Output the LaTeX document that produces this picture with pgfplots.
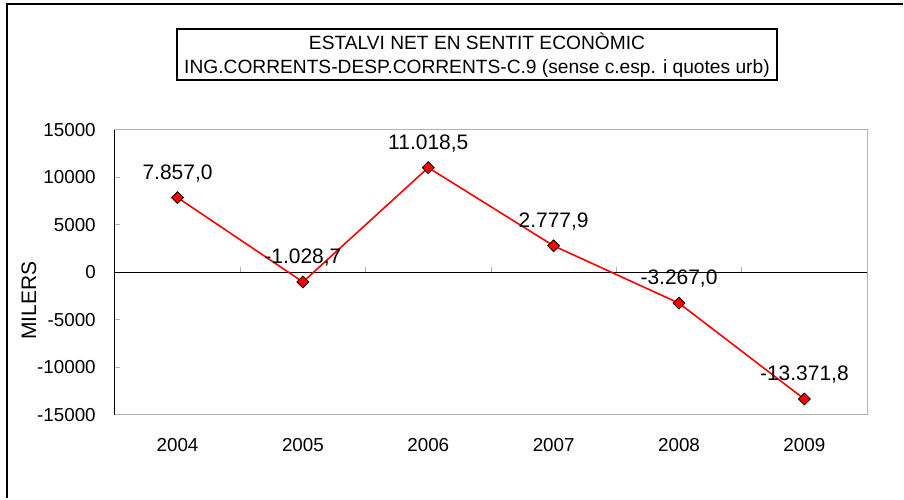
\documentclass[border=0pt]{standalone}
\usepackage{fontspec}
\setmainfont{Liberation Sans}
\usepackage{pgfplots}
\pgfplotsset{compat=1.18}

\pgfplotstableread{
x y lab
0 7857.0 7.857,0
1 -1028.7 -1.028,7
2 11018.5 11.018,5
3 2777.9 2.777,9
4 -3267.0 -3.267,0
5 -13371.8 -13.371,8
}\estalvi

\begin{document}
\fontsize{18.8bp}{22bp}\selectfont
\begin{tikzpicture}[x=1bp,y=1bp]
\path (0,0) rectangle (904,499);
% outer frame (cropped on right and bottom)
\draw[line width=2bp] (7,0) -- (7,494.5) -- (904,494.5);
% title box
\draw[line width=1.5bp] (177,419) rectangle (778,470);
\node[anchor=base, inner sep=0pt, font=\fontsize{19.2bp}{22bp}\selectfont] at (477.5,449) {ESTALVI NET EN SENTIT ECONÒMIC};
\node[anchor=base, inner sep=0pt, font=\fontsize{19.2bp}{22bp}\selectfont] at (477.5,425.7) {ING.CORRENTS-DESP.CORRENTS-C.9 (sense c.esp. i quotes urb)};
\node[rotate=90, inner sep=0pt, font=\fontsize{21bp}{24bp}\selectfont] at (29,198) {MILERS};

\begin{axis}[
  at={(115bp,84bp)}, anchor=south west,
  scale only axis, width=753bp, height=285bp,
  xmin=-0.5, xmax=5.5, ymin=-15000, ymax=15000,
  xtick={0,1,2,3,4,5},
  xticklabels={2004,2005,2006,2007,2008,2009},
  ytick={-15000,-10000,-5000,0,5000,10000,15000},
  ytick pos=left,
  scaled y ticks=false,
  /pgf/number format/1000 sep={},
  /pgf/number format/assume math mode=true,
  axis line style={draw=gray!60, line width=0.8bp},
  xtick style={draw=none},
  ytick style={draw=gray!60, line width=0.8bp},
  tick align=inside,
  major tick length=5bp,
  xticklabel style={anchor=base, inner sep=0pt, yshift=-36.7bp},
  yticklabel style={anchor=east, inner sep=0pt, xshift=-19bp},
  clip=false,
]
\draw[black, line width=0.9bp] (axis cs:-0.5,0) -- (axis cs:5.5,0);
\pgfplotsinvokeforeach{0.5,1.5,2.5,3.5,4.5}{
  \draw[gray!60, line width=0.8bp] (axis cs:#1,0) -- ++(0pt,5bp);
}
\draw[black, line width=0.9bp] (rel axis cs:0,0) -- (rel axis cs:0,1);
\addplot[red, line width=1.6bp,
  mark=square*, mark size=4.2bp,
  mark options={rotate=45, fill=red, draw=black, line width=0.8bp},
  point meta=explicit symbolic,
  nodes near coords,
  nodes near coords style={font=\fontsize{21bp}{24bp}\selectfont, text=black,
    anchor=base, inner sep=0pt, yshift=18.3bp},
] table[x=x, y=y, meta=lab] {\estalvi};
\end{axis}
\end{tikzpicture}
\end{document}
